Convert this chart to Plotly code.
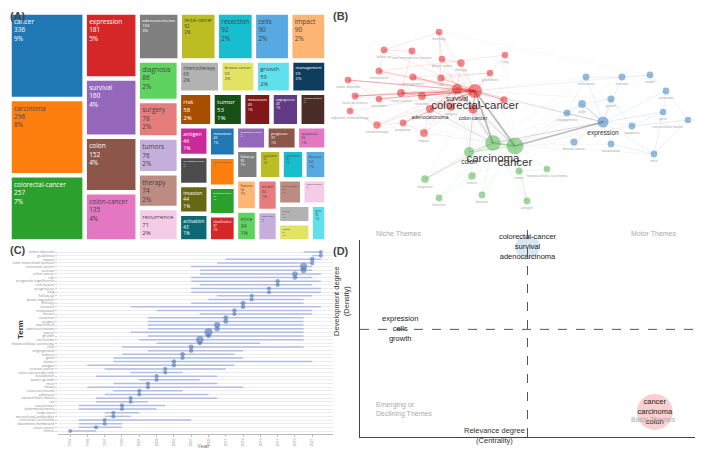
import plotly.graph_objects as go
import numpy as np

# ---- (A) treemap: keyword frequencies
tm_words = ["cancer", "carcinoma", "colorectal-cancer", "expression", "survival", "colon",
            "colon-cancer", "adenocarcinoma", "rectal-cancer", "resection", "cells", "impact",
            "diagnosis", "surgery", "tumors", "therapy", "recurrence", "chemotherapy",
            "breast-cancer", "growth", "management", "risk", "tumor", "metastases",
            "angiogenesis", "prognostic-significance", "antigen", "total-mesorectal-excision",
            "invasion", "activation", "metastasis", "lymph-node-metastasis", "local-recurrence",
            "classification", "carcinoembryonic-antigen", "prognosis", "apoptosis", "follow-up",
            "localization", "carcinomas", "disease", "features", "mice", "model",
            "tumor-growth", "lymph-nodes", "hepatocellular-carcinoma", "in-vivo", "lesions", "gene"]
tm_counts = [336, 296, 257, 181, 160, 152, 135, 104, 92, 92, 90, 90, 86, 78, 76, 74, 71, 69,
             59, 59, 59, 58, 53, 49, 48, 47, 46, 45, 44, 43, 43, 42, 40, 37, 37, 37, 36, 35,
             35, 35, 34, 34, 34, 34, 33, 32, 32, 31, 31, 30]

# ---- (B) co-occurrence network (layout coordinates)
net_words = ["mortality", "follow-up", "total-mesorectal-excision", "lymph-nodes", "therapy", "lung",
             "metastases", "management", "risk", "guidelines", "tumor deposits", "local-recurrence",
             "outcomes", "rectal-cancer", "resection", "survival", "colorectal-cancer", "recurrence",
             "adjuvant chemotherapy", "adenocarcinoma", "surgery", "colon-cancer", "prognosis",
             "chemotherapy", "impact",
             "carcinoma", "cancer", "colon", "diagnosis", "tumors", "tumor", "hepatocellular carcinoma",
             "features", "disease", "antigen",
             "metastasis", "invasion", "model", "activation", "growth", "cells", "angiogenesis",
             "expression", "apoptosis", "gene", "extracellular-matrix", "breast-cancer",
             "localization", "mice"]
net_cluster = [0] * 25 + [2] * 10 + [1] * 14
net_x = [109, 54, 82, 112, 131, 175, 49, 83, 111, 160, 18, 25, 49, 71, 92, 127, 145, 174, 20, 100,
         121, 143, 73, 47, 94,
         163, 185, 139, 95, 142, 189, 217, 109, 152, 197,
         256, 292, 320, 336, 281, 252, 237, 273, 302, 333, 358, 244, 281, 324]
net_y = [193, 175, 174, 166, 162, 170, 154, 148, 147, 152, 145, 129, 126, 132, 129, 136, 134, 125,
         114, 116, 118, 116, 102, 100, 92,
         82, 79, 73, 46, 49, 54, 56, 27, 30, 24,
         148, 148, 150, 134, 126, 121, 112, 103, 99, 113, 105, 83, 81, 71]
net_freq = [30, 35, 45, 32, 74, 25, 49, 59, 58, 30, 25, 40, 30, 92, 92, 160, 257, 71, 28, 104,
            78, 135, 37, 69, 90,
            296, 336, 152, 86, 76, 53, 32, 34, 34, 46,
            43, 44, 34, 43, 59, 90, 48, 181, 36, 30, 22, 59, 35, 34]
net_edges = [
    ("colorectal-cancer", "survival", 3), ("colorectal-cancer", "surgery", 2), ("colorectal-cancer", "resection", 2),
    ("colorectal-cancer", "rectal-cancer", 2), ("colorectal-cancer", "adenocarcinoma", 2),
    ("colorectal-cancer", "colon-cancer", 2), ("colorectal-cancer", "recurrence", 2),
    ("colorectal-cancer", "prognosis", 2), ("colorectal-cancer", "chemotherapy", 1), ("colorectal-cancer", "impact", 1),
    ("colorectal-cancer", "management", 2), ("colorectal-cancer", "risk", 2), ("colorectal-cancer", "lymph-nodes", 1),
    ("colorectal-cancer", "therapy", 1), ("colorectal-cancer", "lung", 1), ("colorectal-cancer", "guidelines", 1),
    ("colorectal-cancer", "metastases", 1), ("colorectal-cancer", "tumor deposits", 2),
    ("colorectal-cancer", "local-recurrence", 2), ("colorectal-cancer", "outcomes", 2),
    ("colorectal-cancer", "adjuvant chemotherapy", 1), ("colorectal-cancer", "follow-up", 1),
    ("colorectal-cancer", "total-mesorectal-excision", 1), ("colorectal-cancer", "mortality", 1),
    ("survival", "adenocarcinoma", 2), ("survival", "colon-cancer", 2), ("survival", "surgery", 2),
    ("survival", "resection", 2), ("survival", "rectal-cancer", 1), ("survival", "prognosis", 1),
    ("survival", "chemotherapy", 1), ("survival", "recurrence", 1), ("survival", "risk", 1),
    ("survival", "local-recurrence", 1), ("survival", "tumor deposits", 1), ("survival", "outcomes", 1),
    ("survival", "metastases", 1), ("survival", "therapy", 1), ("survival", "management", 1),
    ("survival", "impact", 1), ("survival", "lymph-nodes", 1),
    ("rectal-cancer", "resection", 2), ("rectal-cancer", "local-recurrence", 1),
    ("rectal-cancer", "total-mesorectal-excision", 1), ("resection", "surgery", 1), ("resection", "metastases", 1),
    ("surgery", "adenocarcinoma", 1), ("adenocarcinoma", "colon-cancer", 1),
    ("chemotherapy", "adjuvant chemotherapy", 1), ("prognosis", "impact", 1), ("follow-up", "mortality", 1),
    ("lymph-nodes", "therapy", 1), ("tumor deposits", "outcomes", 1), ("local-recurrence", "outcomes", 1),
    ("metastases", "management", 1), ("risk", "mortality", 1), ("guidelines", "management", 1),
    ("lung", "metastases", 1), ("follow-up", "total-mesorectal-excision", 1), ("impact", "adenocarcinoma", 1),
    ("prognosis", "chemotherapy", 1), ("adjuvant chemotherapy", "local-recurrence", 1),
    ("follow-up", "metastases", 1), ("lymph-nodes", "mortality", 1), ("recurrence", "surgery", 1),
    ("guidelines", "risk", 1),
    ("colorectal-cancer", "carcinoma", 3), ("colorectal-cancer", "cancer", 3), ("survival", "carcinoma", 2),
    ("survival", "cancer", 2), ("colon-cancer", "carcinoma", 2), ("colon-cancer", "cancer", 2),
    ("adenocarcinoma", "carcinoma", 2), ("adenocarcinoma", "cancer", 1), ("cancer", "expression", 3),
    ("carcinoma", "expression", 2), ("colorectal-cancer", "expression", 2), ("cancer", "cells", 1),
    ("cancer", "growth", 1), ("cancer", "metastasis", 1), ("cancer", "invasion", 1), ("cancer", "model", 1),
    ("cancer", "activation", 1), ("cancer", "apoptosis", 1), ("cancer", "mice", 1), ("cancer", "localization", 1),
    ("cancer", "breast-cancer", 1), ("carcinoma", "angiogenesis", 1), ("carcinoma", "metastasis", 1),
    ("carcinoma", "gene", 1), ("carcinoma", "extracellular-matrix", 1), ("colorectal-cancer", "metastasis", 1),
    ("colorectal-cancer", "invasion", 1), ("colorectal-cancer", "growth", 1), ("colorectal-cancer", "model", 1),
    ("survival", "expression", 1), ("carcinoma", "mortality", 1), ("carcinoma", "lung", 1), ("cancer", "lung", 1),
    ("cancer", "guidelines", 1), ("carcinoma", "impact", 1), ("carcinoma", "prognosis", 1), ("cancer", "surgery", 1),
    ("carcinoma", "resection", 1), ("cancer", "rectal-cancer", 1), ("carcinoma", "chemotherapy", 1),
    ("cancer", "local-recurrence", 1), ("colorectal-cancer", "diagnosis", 1), ("colorectal-cancer", "tumors", 1),
    ("colorectal-cancer", "colon", 2), ("survival", "colon", 1), ("carcinoma", "tumor deposits", 1),
    ("cancer", "management", 1), ("cancer", "risk", 1), ("mortality", "model", 1), ("expression", "tumors", 1),
    ("expression", "tumor", 1), ("expression", "hepatocellular carcinoma", 1),
    ("carcinoma", "cancer", 3), ("carcinoma", "colon", 2), ("cancer", "colon", 2), ("carcinoma", "diagnosis", 2),
    ("colon", "diagnosis", 1), ("carcinoma", "tumors", 1), ("cancer", "tumors", 1), ("cancer", "tumor", 1),
    ("carcinoma", "tumor", 1), ("cancer", "hepatocellular carcinoma", 1), ("carcinoma", "features", 1),
    ("cancer", "disease", 1), ("carcinoma", "disease", 1), ("cancer", "antigen", 1), ("carcinoma", "antigen", 1),
    ("tumor", "antigen", 1), ("tumors", "features", 1), ("colon", "tumors", 1), ("tumor", "hepatocellular carcinoma", 1),
    ("expression", "cells", 2), ("expression", "growth", 1), ("expression", "apoptosis", 1), ("expression", "gene", 1),
    ("expression", "angiogenesis", 1), ("expression", "localization", 1), ("expression", "breast-cancer", 1),
    ("expression", "mice", 1), ("expression", "activation", 1), ("expression", "invasion", 1),
    ("expression", "metastasis", 1), ("cells", "growth", 1), ("metastasis", "invasion", 1), ("invasion", "model", 1),
    ("model", "activation", 1), ("activation", "gene", 1), ("gene", "apoptosis", 1),
    ("apoptosis", "extracellular-matrix", 1), ("growth", "apoptosis", 1), ("localization", "mice", 1),
    ("gene", "mice", 1), ("cells", "angiogenesis", 1), ("metastasis", "angiogenesis", 1),
    ("extracellular-matrix", "mice", 1), ("activation", "extracellular-matrix", 1),
]

# ---- (C) trend topics
trend_terms = ["tumor deposits", "guidelines", "impact", "total mesorectal excision", "colorectal-cancer",
               "survival", "colon-cancer", "risk", "prognostic-significance", "risk-factors", "progression",
               "lung", "follow-up", "down-regulation", "therapy", "invasion", "metastasis", "lesions",
               "resection", "surgery", "expression", "adenocarcinoma", "cancer", "growth", "carcinoma",
               "hepatocellular-carcinoma", "cells", "angiogenesis", "tumors", "gene", "tumor", "antigen",
               "ovarian-cancer", "colon-carcinoma cells", "localization", "tumor-growth", "mice", "tissue",
               "colon-carcinoma", "adhesion", "extracellular-matrix", "rat", "carcinomas", "pharmacokinetics",
               "nude-mice", "monoclonal-antibodies", "colorectal-carcinoma", "basement-membrane",
               "colon cancer", "invitro"]
trend_q1 = [2020, 2021, 2011, 2010, 2007, 2008, 2008, 2007, 2007, 2008, 2007, 2007, 2010, 2009, 2007,
            2000, 2003, 2008, 2002, 2002, 2002, 2002, 2000, 2002, 2001, 2003, 1999, 2002, 1999, 1998,
            1998, 1995, 1997, 2000, 1996, 2001, 1998, 1995, 1998, 1997, 1996, 1996, 1994, 1994, 1997,
            1997, 1994, 1994, 1994, 1993]
trend_med = [2022, 2022, 2021, 2021, 2020, 2020, 2019, 2019, 2017, 2017, 2016, 2016, 2014, 2014, 2013,
             2013, 2012, 2012, 2011, 2011, 2010, 2010, 2009, 2009, 2008, 2008, 2007, 2007, 2006, 2006,
             2005, 2005, 2004, 2004, 2003, 2003, 2002, 2002, 2001, 2001, 2000, 2000, 1999, 1999, 1998,
             1998, 1997, 1997, 1996, 1993]
trend_q3 = [2022, 2022, 2022, 2021, 2021, 2021, 2022, 2021, 2022, 2021, 2022, 2022, 2021, 2020, 2020,
            2022, 2021, 2021, 2020, 2020, 2020, 2020, 2020, 2020, 2020, 2015, 2020, 2013, 2012, 2013,
            2021, 2012, 2011, 2006, 2010, 2008, 2010, 2013, 2006, 2009, 2010, 2002, 2004, 2003, 2001,
            2000, 2007, 1999, 1999, 1996]
trend_freq = [20, 22, 90, 45, 257, 160, 135, 58, 47, 28, 25, 22, 35, 22, 74, 44, 43, 31, 92, 78, 181,
              104, 336, 59, 296, 32, 90, 48, 76, 30, 53, 46, 20, 22, 35, 33, 34, 25, 28, 20, 22, 18,
              35, 15, 22, 25, 30, 20, 30, 15]
trend_years = [1993, 1995, 1997, 1999, 2001, 2003, 2005, 2007, 2009, 2011, 2013, 2015, 2017, 2019, 2021]

# ---- (D) thematic map
theme_words = [["colorectal-cancer", "survival", "adenocarcinoma"],
               ["expression", "cells", "growth"],
               ["cancer", "carcinoma", "colon"]]
theme_centrality = [0.50, 0.12, 0.88]
theme_density = [0.964, 0.548, 0.127]
theme_freq = [720, 20, 1620]

d3_colors = ["#1f77b4", "#ff7f0e", "#2ca02c", "#d62728", "#9467bd",
             "#8c564b", "#e377c2", "#7f7f7f", "#bcbd22", "#17becf"]

W, H = 709, 459


# page body has an 8px margin, so place things relative to the window
def X(px):
    return (px - 8) / W


def Y(py):
    return 1 - (py - 8) / H


fig = go.Figure()

# (A) treemap
fig.add_trace(go.Treemap(
    labels=tm_words, parents=[""] * len(tm_words), values=tm_counts,
    texttemplate="%{label}<br>%{value}<br>%{percentRoot:.0%}",
    textfont=dict(size=6.5, family="Open Sans"),
    marker=dict(line=dict(color="white", width=1.5), pad=dict(t=0, l=0, r=0, b=0)),
    pathbar=dict(visible=False), hoverinfo="label+value",
    domain=dict(x=[X(11), X(325)], y=[Y(240), Y(14)]),
))

# (B) network
clu_rgb = [(228, 26, 28), (55, 126, 184), (77, 175, 74)]
idx = {w: i for i, w in enumerate(net_words)}
groups = {}
for a, b, w in net_edges:
    ia, ib = idx[a], idx[b]
    if net_cluster[ia] == net_cluster[ib]:
        r, g, bb = clu_rgb[net_cluster[ia]]
        alpha = {1: 0.18, 2: 0.32, 3: 0.5}[w]
    else:
        r, g, bb = (95, 95, 95)
        alpha = {1: 0.08, 2: 0.2, 3: 0.42}[w]
    key = (f"rgba({r},{g},{bb},{alpha})", {1: 0.6, 2: 1.0, 3: 1.8}[w])
    xs, ys = groups.setdefault(key, ([], []))
    xs += [net_x[ia], net_x[ib], None]
    ys += [net_y[ia], net_y[ib], None]
for (col, wid), (xs, ys) in groups.items():
    fig.add_trace(go.Scatter(x=xs, y=ys, mode="lines", line=dict(color=col, width=wid),
                             xaxis="x3", yaxis="y3", hoverinfo="skip", showlegend=False))

node_col = [f"rgba({clu_rgb[c][0]},{clu_rgb[c][1]},{clu_rgb[c][2]},0.75)" for c in net_cluster]
node_size = np.interp(net_freq, [20, 100, 336], [6.5, 8, 17])
lab_size = [11.5 if f >= 250 else 6.5 if f >= 150 else 5 if f >= 100 else 3.6 for f in net_freq]
lab_col = ["#333" if f >= 100 else "#aaa" for f in net_freq]
lab_pos = ["bottom left" if x > 345 else "bottom center" for x in net_x]
fig.add_trace(go.Scatter(
    x=net_x, y=net_y, mode="markers+text", text=net_words, textposition=lab_pos,
    textfont=dict(size=lab_size, color=lab_col, family="Arial"),
    marker=dict(size=node_size, color=node_col, line=dict(width=0)),
    xaxis="x3", yaxis="y3", showlegend=False, cliponaxis=False))

# (C) trend topics
lx, ly = [], []
for t, a, b in zip(trend_terms, trend_q1, trend_q3):
    lx += [a, b, None]
    ly += [t, t, None]
fig.add_trace(go.Scatter(x=lx, y=ly, mode="lines", line=dict(color="#b3bde4", width=1.5),
                         showlegend=False, hoverinfo="skip"))
dot_size = np.interp(trend_freq, [min(trend_freq), max(trend_freq)], [4, 8])
fig.add_trace(go.Scatter(x=trend_med, y=trend_terms, mode="markers",
                         marker=dict(size=dot_size, color="rgba(74,114,176,0.85)", line=dict(width=0)),
                         showlegend=False))

# (D) thematic map
fig.add_trace(go.Scatter(
    x=theme_centrality, y=theme_density, mode="markers+text",
    text=["<br>".join(w) for w in theme_words], textposition="middle center",
    textfont=dict(size=7.5, color="#222", family="Arial"),
    marker=dict(size=theme_freq, sizemode="area", sizeref=2 * max(theme_freq) / 36 ** 2,
                color=["rgba(55,126,184,0.28)", "rgba(77,175,74,0.35)", "rgba(228,26,28,0.3)"],
                line=dict(width=0)),
    xaxis="x2", yaxis="y2", showlegend=False, cliponaxis=False))

mx, my = float(np.mean(theme_centrality)), float(np.mean(theme_density))
fig.add_shape(type="line", xref="x2", yref="y2 domain", x0=mx, x1=mx, y0=0, y1=1.05,
              line=dict(color="#555", width=1, dash="dash"))
fig.add_shape(type="line", xref="x2 domain", yref="y2", x0=0, x1=1, y0=my, y1=my,
              line=dict(color="#555", width=1, dash="dash"))

grey = dict(size=7, color="#aaa", family="Arial")
ann = [
    dict(text="<b>(A)</b>", x=X(8), y=Y(8), xanchor="left", font=dict(size=11)),
    dict(text="<b>(B)</b>", x=X(331), y=Y(8), xanchor="left", font=dict(size=11)),
    dict(text="<b>(C)</b>", x=X(8), y=Y(250), xanchor="left", font=dict(size=11)),
    dict(text="<b>(D)</b>", x=X(331), y=Y(251), xanchor="left", font=dict(size=11)),
    dict(text="<b>Term</b>", x=X(14), y=Y(341), textangle=-90, font=dict(size=8, color="#333")),
    dict(text="Year", x=X(195), y=Y(451), font=dict(size=6, color="#777")),
    dict(text="Development degree<br>(Density)", x=X(341), y=Y(338), textangle=-90,
         font=dict(size=7.5, color="#333")),
    dict(text="Relevance degree<br>(Centrality)", x=X(527), y=Y(447),
         font=dict(size=7.5, color="#333")),
    dict(text="Niche Themes", x=X(374), y=Y(234), xanchor="left", font=grey),
    dict(text="Motor Themes", x=X(678), y=Y(234), xanchor="right", font=grey),
    dict(text="Emerging or<br>Declining Themes", x=X(374), y=Y(420), xanchor="left",
         align="left", font=grey),
    dict(text="Basic Themes", x=X(678), y=Y(425), xanchor="right", font=grey),
]
for a in ann:
    a.update(xref="paper", yref="paper", showarrow=False)
    a.setdefault("font", {}).setdefault("family", "Arial")

fig.update_layout(
    template="none", colorway=d3_colors,
    width=W, height=H, margin=dict(l=0, r=0, t=0, b=0, autoexpand=False),
    paper_bgcolor="white", plot_bgcolor="white", showlegend=False,
    annotations=ann,
    xaxis=dict(domain=[X(58), X(333)], anchor="y", range=[1991.6, 2023.4], automargin=False,
               tickmode="array", tickvals=trend_years, tickangle=-90, tickfont=dict(size=3.6, color="#888"),
               showgrid=False, zeroline=False, showline=True, linecolor="#bbb", linewidth=0.8,
               ticks="outside", ticklen=2, tickcolor="#bbb"),
    yaxis=dict(domain=[Y(434), Y(249)], anchor="x", type="category", automargin=False,
               categoryorder="array", categoryarray=trend_terms,
               tickmode="array", tickvals=trend_terms, ticktext=trend_terms,
               range=[len(trend_terms) - 1 + 0.82, -0.82],
               tickfont=dict(size=3.6, color="#888"), showgrid=True, gridcolor="#ececec", gridwidth=0.6,
               ticks="outside", ticklen=2, tickcolor="#ccc", zeroline=False, showline=False),
    xaxis2=dict(domain=[X(360), X(695)], anchor="y2", range=[0, 1], showgrid=False, automargin=False,
                zeroline=False, showticklabels=False, ticks="", showline=True, linecolor="#444",
                linewidth=1.2),
    yaxis2=dict(domain=[Y(437), Y(240)], anchor="x2", range=[0, 1], showgrid=False,
                automargin=False, zeroline=False, showticklabels=False, ticks="", showline=True,
                linecolor="#444", linewidth=1.2),
    xaxis3=dict(domain=[X(330), X(709)], anchor="y3", range=[0, 379], visible=False),
    yaxis3=dict(domain=[Y(225), Y(14)], anchor="x3", range=[0, 211], visible=False),
)

fig.write_html("out.html")
